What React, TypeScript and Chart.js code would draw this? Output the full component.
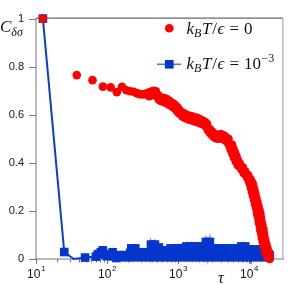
import { useEffect, useRef } from 'react';
import { Chart, registerables } from 'chart.js';

Chart.register(...registerables);

// Common dense tau sampling (shared by both series in the dense part)
const tauGrid = [
  150, 155, 160, 165, 170, 176, 182, 188, 194, 200,
  206, 213, 220, 227, 234, 242, 250, 258, 266, 275,
  284, 293, 303, 312, 323, 333, 344, 355, 366, 378,
  391, 403, 416, 430, 444, 458, 473, 488, 504, 520,
  537, 555, 573, 591, 610, 630, 651, 672, 694, 713,
  736, 760, 785, 810, 836, 863, 891, 920, 950, 981,
  1013, 1046, 1080, 1115, 1151, 1188, 1227, 1266, 1307, 1350,
  1394, 1439, 1485, 1533, 1583, 1634, 1687, 1742, 1798, 1857,
  1915, 1977, 2041, 2107, 2175, 2246, 2319, 2394, 2471, 2551,
  2634, 2719, 2807, 2898, 2992, 3089, 3189, 3292, 3399, 3509,
  3623, 3740, 3861, 3986, 4115, 4249, 4386, 4528, 4675, 4826,
  4983, 5144, 5311, 5483, 5660, 5844, 6033, 6228, 6430, 6638,
  6853, 7075, 7304, 7541, 7785, 8037, 8297, 8566, 8843, 9130,
  9420, 9720, 10000, 10330, 10660, 11010, 11370, 11740, 12120, 12510,
  12910, 13330, 13770, 14210, 14670, 15150, 15640, 16150, 16670, 17210,
  17770, 18350, 18940, 19550,
];

// k_B T / eps = 0 (red circles)
const redTauEarly = [12.5, 37.5, 62.5, 87.5, 112.5, 137.5, 162.5, 187.5, 212.5, 237.5, 262.5, 287.5, 312.5, 337.5, 362.5];
const redCEarly = [1.0, 0.765, 0.744, 0.717, 0.714, 0.694, 0.716, 0.702, 0.698, 0.696, 0.69, 0.686, 0.684, 0.686, 0.688];
const redCMid = [
  0.69, 0.677, 0.694, 0.681, 0.698, 0.683, 0.7, 0.683, 0.698, 0.675,
  0.683, 0.663, 0.675, 0.657, 0.671, 0.655, 0.669, 0.651, 0.667, 0.649,
  0.663, 0.643, 0.657, 0.639, 0.651, 0.633, 0.647, 0.627, 0.639, 0.619,
  0.631, 0.607, 0.621, 0.603, 0.611, 0.593, 0.607, 0.589, 0.603, 0.585,
  0.599, 0.581, 0.595, 0.579, 0.595, 0.577, 0.591, 0.573, 0.587, 0.571,
  0.587, 0.569, 0.583, 0.565, 0.579, 0.562, 0.575, 0.558, 0.571, 0.552,
  0.563, 0.536, 0.544, 0.524, 0.536, 0.516, 0.528, 0.508, 0.52, 0.502,
  0.516, 0.5, 0.516, 0.502, 0.52, 0.502, 0.516, 0.498, 0.512, 0.492,
  0.504, 0.486, 0.5,
];
const redTauLate = [
  5063, 5751, 5311, 6033, 5571, 6328, 5844, 6638, 6130, 6963, 6533, 7421, 6963, 8166, 7785, 8843,
  8430, 9720, 9276, 10495, 9876, 11186, 10330, 11552, 10660, 11928, 11010, 12314, 11370, 12710, 11740, 13117,
  12120, 13543, 12510, 13990, 12910, 14437, 13117, 14670, 13543, 14905, 13770, 15392, 14210, 15890, 14437, 16150,
  14905, 16408, 15150, 16937, 15640, 17485, 16150, 18054, 16670, 18644, 17210, 19550, 18054, 19550,
];
const redCLate = [
  0.484, 0.476, 0.468, 0.46, 0.452, 0.444, 0.437, 0.429, 0.421, 0.413, 0.405, 0.397, 0.389, 0.381, 0.373, 0.365,
  0.357, 0.349, 0.341, 0.333, 0.325, 0.317, 0.31, 0.302, 0.294, 0.286, 0.278, 0.27, 0.262, 0.254, 0.246, 0.238,
  0.23, 0.222, 0.214, 0.206, 0.198, 0.19, 0.183, 0.175, 0.167, 0.159, 0.151, 0.143, 0.135, 0.127, 0.119, 0.111,
  0.103, 0.095, 0.087, 0.079, 0.071, 0.063, 0.056, 0.048, 0.04, 0.032, 0.024, 0.016, 0.008, 0.0,
];

// k_B T / eps = 1e-3 (blue squares with line)
const blueTauEarly = [12.5, 25, 34, 49.2, 69.8, 74.4, 81.8, 87.2, 93.0, 99.1, 105.6, 112.6, 120, 128, 136, 145];
const blueCEarly = [1.0, 0.029, 0.0, 0.006, 0.01, 0.02, 0.028, 0.036, 0.02, 0.012, 0.02, 0.012, 0.028, 0.012, 0.004, 0.012];
const blueCDense = [
  0.016, 0.012, 0.008, 0.012, 0.016, 0.012, 0.008, 0.012, 0.016, 0.012,
  0.008, 0.026, 0.044, 0.026, 0.008, 0.026, 0.044, 0.026, 0.008, 0.026,
  0.028, 0.018, 0.008, 0.018, 0.028, 0.018, 0.008, 0.018, 0.028, 0.018,
  0.008, 0.018, 0.06, 0.034, 0.008, 0.034, 0.06, 0.034, 0.008, 0.028,
  0.048, 0.028, 0.008, 0.022, 0.036, 0.022, 0.008, 0.022, 0.036, 0.022,
  0.008, 0.022, 0.044, 0.026, 0.008, 0.026, 0.044, 0.026, 0.008, 0.026,
  0.044, 0.026, 0.008, 0.026, 0.044, 0.026, 0.008, 0.026, 0.052, 0.03,
  0.008, 0.03, 0.052, 0.03, 0.008, 0.03, 0.052, 0.03, 0.008, 0.03,
  0.052, 0.03, 0.008, 0.03, 0.052, 0.03, 0.008, 0.04, 0.071, 0.04,
  0.008, 0.04, 0.071, 0.026, 0.008, 0.026, 0.044, 0.026, 0.008, 0.026,
  0.044, 0.026, 0.008, 0.026, 0.044, 0.026, 0.008, 0.026, 0.044, 0.026,
  0.008, 0.026, 0.044, 0.026, 0.008, 0.026, 0.044, 0.026, 0.008, 0.026,
  0.044, 0.026, 0.008, 0.03, 0.052, 0.03, 0.008, 0.03, 0.052, 0.03,
  0.008, 0.03, 0.04, 0.024, 0.008, 0.024, 0.04, 0.024, 0.008, 0.024,
  0.04, 0.024, 0.008, 0.024, 0.04, 0.024, 0.008, 0.014, 0.02, 0.014,
  0.008, 0.014, 0.02, 0.014,
];

const yTicks = [0, 0.2, 0.4, 0.6, 0.8, 1];
const xMajorTicks = [10, 100, 1000, 10000];
const xMajorExps = ['1', '2', '3', '4'];
const xMinorTicks = [
  20, 30, 40, 50, 60, 70, 80, 90, 200, 300, 400, 500, 600, 700, 800, 900,
  2000, 3000, 4000, 5000, 6000, 7000, 8000, 9000, 20000,
];

const RED = '#ff0000';
const BLUE = '#0536cc';
const BLUE_LINE = '#0b3bd1';
const SANS = '"Liberation Sans", Arial, sans-serif';
const SERIF = '"Liberation Serif", "DejaVu Serif", serif';

type Run = { t: string; font: string; dy?: number; gap?: number };
function drawRuns(ctx: CanvasRenderingContext2D, x: number, y: number, runs: Run[]) {
  for (const r of runs) {
    x += r.gap || 0;
    ctx.font = r.font;
    ctx.fillText(r.t, x, y + (r.dy || 0));
    x += ctx.measureText(r.t).width;
  }
  return x;
}

function pairs(tau: number[], c: number[]) {
  const n = Math.min(tau.length, c.length);
  const out: { x: number; y: number }[] = [];
  for (let i = 0; i < n; i++) out.push({ x: tau[i], y: c[i] });
  return out;
}

const decorPlugin = {
  id: 'decor',
  beforeDatasetsDraw(chart: any) {
    const { ctx, chartArea: a, scales } = chart;
    const xs = scales.x;
    const ys = scales.y;
    ctx.save();
    ctx.lineWidth = 1;
    ctx.strokeStyle = '#777';
    ctx.beginPath();
    ctx.moveTo(36, a.top - 0.5);
    ctx.lineTo(36, a.bottom);
    ctx.lineTo(a.right + 1, a.bottom);
    ctx.stroke();
    ctx.strokeStyle = '#999';
    ctx.beginPath();
    ctx.moveTo(a.right, a.top);
    ctx.lineTo(a.right, a.bottom);
    ctx.stroke();
    ctx.strokeStyle = '#444';
    ctx.beginPath();
    ctx.moveTo(36, a.top - 0.5);
    ctx.lineTo(a.right, a.top - 0.5);
    ctx.stroke();
    ctx.strokeStyle = '#777';
    for (const v of yTicks) {
      const py = Math.round(ys.getPixelForValue(v)) + 0.5;
      ctx.beginPath();
      ctx.moveTo(29, py);
      ctx.lineTo(36, py);
      ctx.stroke();
    }
    for (const v of xMinorTicks) {
      const px = Math.round(xs.getPixelForValue(v)) + 0.5;
      ctx.beginPath();
      ctx.moveTo(px, a.bottom);
      ctx.lineTo(px, a.bottom + 3.5);
      ctx.stroke();
    }
    for (const v of xMajorTicks) {
      const px = Math.round(xs.getPixelForValue(v)) + 0.5;
      ctx.beginPath();
      ctx.moveTo(px, a.bottom);
      ctx.lineTo(px, a.bottom + 5);
      ctx.stroke();
    }
    ctx.restore();
  },
  afterDraw(chart: any) {
    const { ctx, scales } = chart;
    const xs = scales.x;
    ctx.save();
    ctx.fillStyle = '#111';
    ctx.textBaseline = 'alphabetic';
    ctx.textAlign = 'left';
    xMajorTicks.forEach((v, i) => {
      const px = xs.getPixelForValue(v);
      ctx.font = `12px ${SANS}`;
      const w1 = ctx.measureText('10').width;
      ctx.font = `8px ${SANS}`;
      const w2 = ctx.measureText(xMajorExps[i]).width;
      const x0 = px - (w1 + w2) / 2;
      drawRuns(ctx, x0, 278, [
        { t: '10', font: `12px ${SANS}` },
        { t: xMajorExps[i], font: `8px ${SANS}`, dy: -7.5, gap: 0.5 },
      ]);
    });
    drawRuns(ctx, 218, 283, [{ t: 'τ', font: `italic 16px ${SERIF}` }]);
    drawRuns(ctx, 0, 32, [
      { t: 'C', font: `italic 17px ${SERIF}` },
      { t: 'δσ', font: `italic 12px ${SERIF}`, dy: 4, gap: 0 },
    ]);
    // legend
    ctx.fillStyle = RED;
    ctx.beginPath();
    ctx.arc(169.3, 28.3, 4.3, 0, Math.PI * 2);
    ctx.fill();
    ctx.strokeStyle = '#4f78e2';
    ctx.lineWidth = 1.6;
    ctx.beginPath();
    ctx.moveTo(157, 64.3);
    ctx.lineTo(181, 64.3);
    ctx.stroke();
    ctx.fillStyle = BLUE;
    ctx.fillRect(169.3 - 4.3, 64.3 - 4.3, 8.6, 8.6);

    ctx.fillStyle = '#111';
    const it = `italic 17px ${SERIF}`;
    const itS = `italic 12px ${SERIF}`;
    const rm = `17px ${SERIF}`;
    const rmS = `12px ${SERIF}`;
    const base: Run[] = [
      { t: 'k', font: it },
      { t: 'B', font: itS, dy: 3 },
      { t: 'T', font: it, gap: 0.5 },
      { t: '/', font: rm, gap: 1 },
      { t: 'ϵ', font: it, gap: 0.5 },
      { t: '=', font: rm, gap: 5 },
    ];
    drawRuns(ctx, 186.5, 33.5, [...base, { t: '0', font: rm, gap: 5 }]);
    drawRuns(ctx, 186.5, 68.5, [
      ...base,
      { t: '10', font: rm, gap: 5 },
      { t: '−3', font: rmS, dy: -7, gap: 0.5 },
    ]);
    ctx.restore();
  },
};

export default function App() {
  const ref = useRef<HTMLCanvasElement | null>(null);
  useEffect(() => {
    if (!ref.current) return;
    const red = [
      ...pairs(redTauEarly, redCEarly),
      ...pairs(tauGrid.slice(29, 112), redCMid),
      ...pairs(redTauLate, redCLate),
    ];
    const blue = [...pairs(blueTauEarly, blueCEarly), ...pairs(tauGrid, blueCDense)];
    const chart = new Chart(ref.current, {
      type: 'scatter',
      data: {
        datasets: [
          {
            label: 'kBT/eps = 0',
            data: red,
            showLine: false,
            pointRadius: 4.3,
            pointHoverRadius: 4.3,
            pointBackgroundColor: RED,
            pointBorderWidth: 0,
            pointBorderColor: RED,
            clip: false as any,
          },
          {
            label: 'kBT/eps = 1e-3',
            data: blue,
            showLine: true,
            borderColor: BLUE_LINE,
            borderWidth: 2,
            pointStyle: 'rect',
            pointRadius: (c: any) => (c.dataIndex === 2 ? 0 : 6.1),
            pointHoverRadius: 6.1,
            pointBackgroundColor: BLUE,
            pointBorderWidth: 0,
            pointBorderColor: BLUE,
            clip: false as any,
          },
        ],
      },
      options: {
        animation: false,
        responsive: false,
        devicePixelRatio: 1,
        events: [],
        layout: { padding: { top: 7, right: 2, left: 0, bottom: 0 } },
        plugins: { legend: { display: false }, tooltip: { enabled: false } },
        scales: {
          x: {
            type: 'logarithmic',
            min: 10,
            max: 30000,
            grid: { display: false, drawTicks: false },
            border: { display: false },
            ticks: { display: false },
            afterFit: (s: any) => {
              s.height = 26;
            },
          },
          y: {
            type: 'linear',
            min: 0,
            max: 1,
            grid: { display: false, drawTicks: false },
            border: { display: false },
            afterBuildTicks: (s: any) => {
              s.ticks = yTicks.map((v) => ({ value: v }));
            },
            ticks: {
              padding: 12,
              color: '#111',
              font: { family: SANS, size: 11 },
              callback: (v: any) => String(Math.round(Number(v) * 10) / 10),
            },
            afterFit: (s: any) => {
              s.width = 36;
            },
          },
        },
      },
      plugins: [decorPlugin],
    });
    return () => chart.destroy();
  }, []);
  return (
    <div style={{ position: 'absolute', left: 0, top: 0, width: 289, height: 285, background: '#fff' }}>
      <canvas ref={ref} width={289} height={285} style={{ display: 'block', width: 289, height: 285 }} />
    </div>
  );
}
